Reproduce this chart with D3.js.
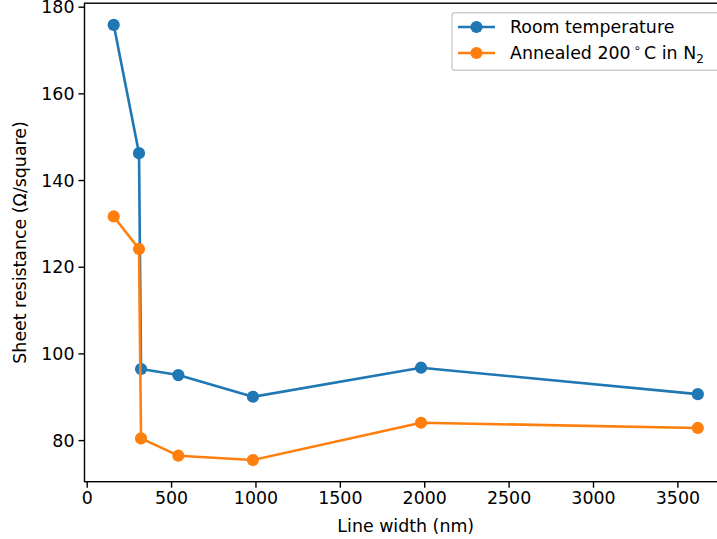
<!DOCTYPE html>
<html><head><meta charset="utf-8">
<script src="https://cdn.jsdelivr.net/npm/d3@7"></script>
<style>body{margin:0;background:#fff;} text{font-family:"DejaVu Sans",sans-serif;}</style>
</head><body>
<script>
const lineWidths = [160, 310, 322, 543, 985, 1981, 3621];
const roomTemp = [175.8, 146.2, 96.4, 95.0, 90.0, 96.7, 90.6];
const annealed = [131.6, 124.1, 80.4, 76.4, 75.4, 84.0, 82.8];
const xTicks = [0, 500, 1000, 1500, 2000, 2500, 3000, 3500];
const yTicks = [80, 100, 120, 140, 160, 180];
const seriesNames = ["Room temperature", "Annealed 200 °C in N2"];
const colors = ["#1f77b4", "#ff7f0e"];

const W = 717, H = 539;
const svg = d3.select("body").append("svg").attr("width", W).attr("height", H);
const L = 84.5, R = 727, T = 3.2, B = 481.7;
const x = d3.scaleLinear().domain([-13, 3794]).range([L, R]);
const y = d3.scaleLinear().domain([70.4, 180.8]).range([B, T]);
const fs = 17.4;

// axes
const xAxis = svg.append("g").attr("transform", `translate(0,${B})`)
  .call(d3.axisBottom(x).tickValues(xTicks).tickSize(6).tickPadding(4).tickFormat(d3.format("d")));
const yAxis = svg.append("g").attr("transform", `translate(${L},0)`)
  .call(d3.axisLeft(y).tickValues(yTicks).tickSize(6).tickPadding(4).tickFormat(d3.format("d")));
[xAxis, yAxis].forEach(g => {
  g.select(".domain").remove();
  g.selectAll(".tick line").attr("stroke", "#000").attr("stroke-width", 1.4);
  g.selectAll(".tick text").attr("font-size", fs).attr("fill", "#000")
   .attr("font-family", "DejaVu Sans");
});
yAxis.selectAll(".tick text").attr("dy", "0.36em");
// spines
svg.append("rect").attr("x", L).attr("y", T).attr("width", R - L).attr("height", B - T)
  .attr("fill", "none").attr("stroke", "#000").attr("stroke-width", 1.4);

// axis labels
svg.append("text").attr("x", (L + R) / 2).attr("y", 532).attr("text-anchor", "middle")
  .attr("font-size", fs).text("Line width (nm)");
svg.append("text").attr("transform", `translate(26,${(T + B) / 2}) rotate(-90)`)
  .attr("text-anchor", "middle").attr("font-size", fs).text("Sheet resistance (Ω/square)");

// series
const line = d3.line().x(d => x(d[0])).y(d => y(d[1]));
[roomTemp, annealed].forEach((vals, i) => {
  const pts = lineWidths.map((w, j) => [w, vals[j]]);
  svg.append("path").datum(pts).attr("d", line).attr("fill", "none")
    .attr("stroke", colors[i]).attr("stroke-width", 2.6).attr("stroke-linejoin", "round");
  svg.append("g").selectAll("circle").data(pts).join("circle")
    .attr("cx", d => x(d[0])).attr("cy", d => y(d[1])).attr("r", 6.1)
    .attr("fill", colors[i]);
});

// legend
const lg = svg.append("g");
lg.append("rect").attr("x", 452).attr("y", 12.7).attr("width", 270).attr("height", 57.5)
  .attr("rx", 3).attr("fill", "#fff").attr("fill-opacity", 0.8)
  .attr("stroke", "#cccccc").attr("stroke-width", 1.4);
[27, 53].forEach((cy, i) => {
  lg.append("line").attr("x1", 458).attr("x2", 495).attr("y1", cy).attr("y2", cy)
    .attr("stroke", colors[i]).attr("stroke-width", 2.6);
  lg.append("circle").attr("cx", 476.5).attr("cy", cy).attr("r", 6.1).attr("fill", colors[i]);
});
lg.append("text").attr("x", 510).attr("y", 33.3).attr("font-size", fs).text(seriesNames[0]);
const t2 = lg.append("text").attr("x", 510).attr("y", 59.3).attr("font-size", fs);
t2.append("tspan").text("Annealed 200");
t2.append("tspan").attr("dx", 3).attr("dy", -7).attr("font-size", 12).text("∘");
t2.append("tspan").attr("dx", 3).attr("dy", 7).text("C in N");
t2.append("tspan").attr("dy", 4).attr("font-size", 12).text("2");
</script>
</body></html>
